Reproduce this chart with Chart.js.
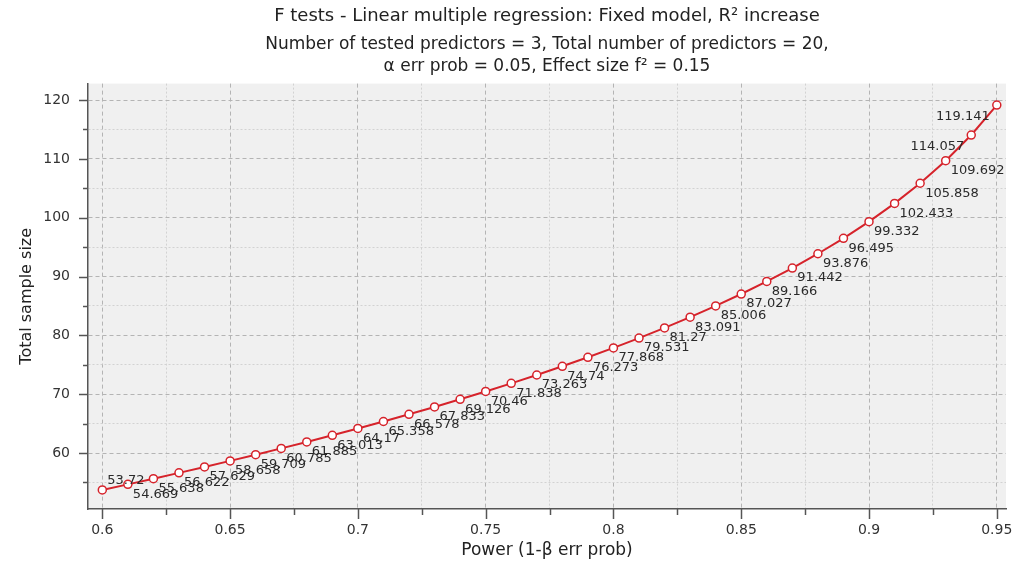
<!DOCTYPE html>
<html>
<head>
<meta charset="utf-8">
<script src="https://cdn.jsdelivr.net/npm/chart.js@4.4.0/dist/chart.umd.min.js"></script>
<style>
    html, body { margin: 0; padding: 0; background: #fff; }
</style>
</head>
<body>
<canvas id="powerChart" width="1013" height="573"></canvas>
<script>
const potencia = [0.60, 0.61, 0.62, 0.63, 0.64, 0.65, 0.66, 0.67, 0.68, 0.69,
                  0.70, 0.71, 0.72, 0.73, 0.74, 0.75, 0.76, 0.77, 0.78, 0.79,
                  0.80, 0.81, 0.82, 0.83, 0.84, 0.85, 0.86, 0.87, 0.88, 0.89,
                  0.90, 0.91, 0.92, 0.93, 0.94, 0.95];
const tamMuestra = [53.72, 54.669, 55.638, 56.622, 57.629, 58.658, 59.709, 60.785, 61.885, 63.013,
                    64.17, 65.358, 66.578, 67.833, 69.126, 70.46, 71.838, 73.263, 74.74, 76.273,
                    77.868, 79.531, 81.27, 83.091, 85.006, 87.027, 89.166, 91.442, 93.876, 96.495,
                    99.332, 102.433, 105.858, 109.692, 114.057, 119.141];

// marcas de los ejes (mayores llevan etiqueta)
const ticksX = [0.6, 0.625, 0.65, 0.675, 0.7, 0.725, 0.75, 0.775, 0.8, 0.825, 0.85, 0.875, 0.9, 0.925, 0.95];
const ticksXMayores = [0.6, 0.65, 0.7, 0.75, 0.8, 0.85, 0.9, 0.95];
const ticksY = [55, 60, 65, 70, 75, 80, 85, 90, 95, 100, 105, 110, 115, 120];
const ticksYMayores = [60, 70, 80, 90, 100, 110, 120];

const titulo = 'F tests - Linear multiple regression: Fixed model, R² increase';
const subtitulo = ['Number of tested predictors = 3, Total number of predictors = 20,',
                   'α err prob = 0.05, Effect size f² = 0.15'];

const rojo = '#d6232b';
const fuente = 'DejaVu Sans';

// fondo gris del area de la grafica
const fondoPlugin = {
    id: 'fondo',
    beforeDraw(chart) {
        const { ctx, chartArea: a } = chart;
        ctx.save();
        ctx.fillStyle = '#fff';
        ctx.fillRect(0, 0, chart.width, chart.height);
        ctx.fillStyle = '#f0f0f0';
        ctx.fillRect(a.left, a.top, a.right - a.left, a.bottom - a.top);
        ctx.restore();
    }
};

// para dibujar las marcas cortas y largas de los ejes
const marcasPlugin = {
    id: 'marcas',
    afterDraw(chart) {
        const { ctx, chartArea: a, scales } = chart;
        ctx.save();
        ctx.strokeStyle = '#555';
        ctx.lineWidth = 1.5;
        ticksX.forEach(v => {
            const px = Math.round(scales.x.getPixelForValue(v)) + 0.5;
            const largo = ticksXMayores.includes(v) ? 10 : 6;
            ctx.beginPath();
            ctx.moveTo(px, a.bottom);
            ctx.lineTo(px, a.bottom + largo);
            ctx.stroke();
        });
        ticksY.forEach(v => {
            const py = Math.round(scales.y.getPixelForValue(v)) + 0.5;
            const largo = ticksYMayores.includes(v) ? 9 : 5;
            ctx.beginPath();
            ctx.moveTo(a.left - largo, py);
            ctx.lineTo(a.left, py);
            ctx.stroke();
        });
        ctx.restore();
    }
};

// etiquetas con el valor junto a cada punto
const etiquetasPlugin = {
    id: 'etiquetas',
    afterDatasetsDraw(chart) {
        const { ctx, chartArea: a } = chart;
        const meta = chart.getDatasetMeta(0);
        ctx.save();
        ctx.font = '13px "' + fuente + '"';
        ctx.fillStyle = '#2a2a2a';
        ctx.textBaseline = 'middle';
        meta.data.forEach((pt, i) => {
            const texto = String(tamMuestra[i]);
            const ancho = ctx.measureText(texto).width;
            let x = pt.x + 5;
            let y = pt.y + 10;
            ctx.textAlign = 'left';
            // si se sale por la derecha, va a la izquierda del punto
            if (x + ancho > a.right + 5) {
                x = pt.x - 7;
                y = pt.y + 12;
                ctx.textAlign = 'right';
            }
            // si choca con el eje x, va arriba
            if (y + 6 > a.bottom - 8) {
                y = pt.y - 9;
            }
            ctx.fillText(texto, x, y);
        });
        ctx.restore();
    }
};

const ctx = document.getElementById('powerChart');

new Chart(ctx, {
    type: 'line',
    data: {
        datasets: [{
            data: potencia.map((p, i) => ({ x: p, y: tamMuestra[i] })),
            borderColor: rojo,
            borderWidth: 2,
            backgroundColor: '#fff',
            pointRadius: 4,
            pointBorderWidth: 1.5,
            pointBackgroundColor: '#fff',
            pointBorderColor: rojo,
            tension: 0,
            fill: false
        }]
    },
    options: {
        responsive: false,
        animation: false,
        devicePixelRatio: 1,
        layout: { padding: { left: 0, right: 7, top: 0, bottom: 0 } },
        plugins: {
            legend: { display: false },
            tooltip: { enabled: false },
            title: {
                display: true,
                text: titulo,
                fullSize: false,
                color: '#222',
                font: { family: fuente, size: 18, weight: 'normal', lineHeight: 1.2 },
                padding: { top: 6, bottom: 6 }
            },
            subtitle: {
                display: true,
                text: subtitulo,
                fullSize: false,
                color: '#222',
                font: { family: fuente, size: 17, weight: 'normal', lineHeight: 1.294 },
                padding: { top: 0, bottom: 6 }
            }
        },
        scales: {
            x: {
                type: 'linear',
                min: 0.5944,
                max: 0.9536,
                afterBuildTicks: s => { s.ticks = ticksX.map(v => ({ value: v })); },
                afterFit: s => { s.height = 64; s.paddingLeft = 0; s.paddingRight = 0; },
                ticks: {
                    padding: 13,
                    color: '#333',
                    font: { family: fuente, size: 14 },
                    maxRotation: 0,
                    autoSkip: false,
                    callback: v => ticksXMayores.includes(v) ? String(v) : ''
                },
                grid: {
                    drawTicks: false,
                    color: c => (c.tick && ticksXMayores.includes(c.tick.value)) ? '#b4b4b4' : '#d2d2d2',
                    lineWidth: 1
                },
                border: {
                    display: true,
                    color: '#555',
                    width: 1.5,
                    dash: c => (c.tick && ticksXMayores.includes(c.tick.value)) ? [4, 3] : [2, 2]
                },
                title: {
                    display: true,
                    text: 'Power (1-β err prob)',
                    color: '#222',
                    font: { family: fuente, size: 17, lineHeight: 1.2 },
                    padding: { top: 4, bottom: 12 }
                }
            },
            y: {
                type: 'linear',
                min: 50.48,
                max: 122.8,
                afterBuildTicks: s => { s.ticks = ticksY.map(v => ({ value: v })); },
                afterFit: s => { s.width = 88; s.paddingTop = 0; s.paddingBottom = 0; },
                ticks: {
                    padding: 18,
                    color: '#333',
                    font: { family: fuente, size: 14 },
                    autoSkip: false,
                    callback: v => ticksYMayores.includes(v) ? String(v) : ''
                },
                grid: {
                    drawTicks: false,
                    color: c => (c.tick && ticksYMayores.includes(c.tick.value)) ? '#b4b4b4' : '#d2d2d2',
                    lineWidth: 1
                },
                border: {
                    display: true,
                    color: '#555',
                    width: 1.5,
                    dash: c => (c.tick && ticksYMayores.includes(c.tick.value)) ? [4, 3] : [2, 2]
                },
                title: {
                    display: true,
                    text: 'Total sample size',
                    color: '#222',
                    font: { family: fuente, size: 16, lineHeight: 1.2 },
                    padding: { top: 17, bottom: 4 }
                }
            }
        }
    },
    plugins: [fondoPlugin, marcasPlugin, etiquetasPlugin]
});
</script>
</body>
</html>
